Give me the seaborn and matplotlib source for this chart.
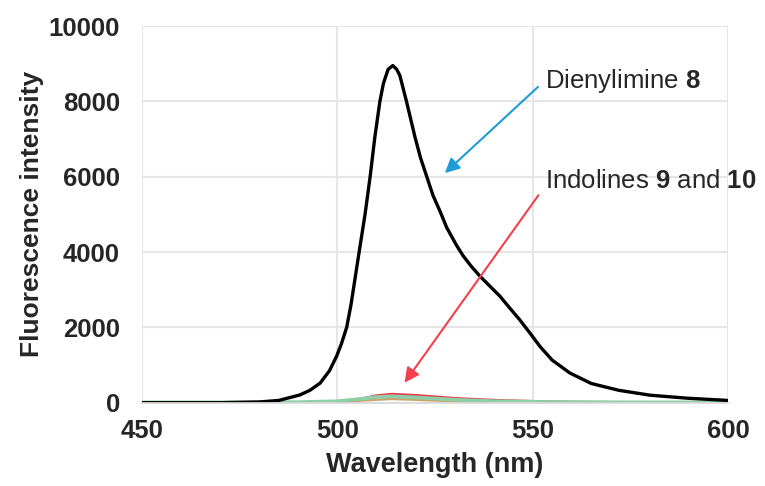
import numpy as np
import pandas as pd
import matplotlib
matplotlib.use("Agg")
import matplotlib.pyplot as plt
import seaborn as sns

sns.set_theme(style="white")
plt.rcParams['font.family'] = ['Liberation Sans', 'DejaVu Sans']
plt.rcParams['mathtext.fontset'] = 'custom'
plt.rcParams['mathtext.rm'] = 'Liberation Sans'
plt.rcParams['mathtext.bf'] = 'Liberation Sans:bold'

# dienylimine 8 (black)
wl_8 = [450, 470, 480, 485, 490.4, 493, 495.6, 498, 499.8, 501, 502.4, 503.5, 504.5,
        505.6, 507.1, 508.4, 509.6, 510.9, 511.8, 513, 514.2, 515.2, 516, 517.7,
        519.9, 521.3, 522.9, 524.5, 526.3, 528, 530.5, 532.2, 534.3, 536.5, 539, 541.6, 544,
        546.7, 549.3, 551.9, 555, 559.5, 565, 572, 580, 589.5, 600]
int_8 = [0, 0, 20, 60, 205, 330, 520, 850, 1230, 1550, 2000, 2600, 3270,
         4010, 5000, 6000, 7045, 8000, 8474, 8850, 8950, 8850, 8690, 8000,
         7045, 6500, 6000, 5500, 5080, 4650, 4180, 3900, 3620, 3360, 3100, 2830, 2530,
         2200, 1850, 1490, 1130, 790, 510, 330, 200, 120, 60]

# indolines 9 and 10 (faint curves)
wl_small = [450, 480, 490, 500, 505, 510, 514, 520, 530, 540, 550, 560, 580, 600]
int_red = [0, 0, 5, 20, 80, 190, 230, 200, 120, 70, 40, 20, 5, 0]
int_tan = [0, 0, 5, 15, 50, 80, 100, 80, 40, 20, 10, 5, 0, 0]
int_green = [10, 10, 15, 40, 90, 150, 170, 140, 80, 40, 25, 15, 10, 10]

fig, ax = plt.subplots(figsize=(7.65, 4.86), dpi=100)
fig.subplots_adjust(left=0.1856, right=0.9516, top=0.9465, bottom=0.1714)

sns.lineplot(x=wl_small, y=int_tan, color="#c9a46a", lw=1.8, ax=ax)
sns.lineplot(x=wl_small, y=int_red, color="#e8404c", lw=1.8, ax=ax)
sns.lineplot(x=wl_small, y=int_green, color="#8fcfa8", lw=2.6, ax=ax)
sns.lineplot(x=wl_8, y=int_8, color="black", lw=2.4, ax=ax,
             solid_joinstyle="round", solid_capstyle="round")

ax.set_xlim(450, 600)
ax.set_ylim(0, 10000)
ax.set_xticks([450, 500, 550, 600])
ax.set_yticks([0, 2000, 4000, 6000, 8000, 10000])
ax.grid(True, color="#e6e6e6", lw=1.5)
ax.set_axisbelow(True)
for s in ["top", "right", "left"]:
    ax.spines[s].set_visible(False)
ax.spines["bottom"].set_color("#d9d9d9")
ax.tick_params(axis="both", length=0, labelsize=18.5)
ax.tick_params(axis="y", pad=16)
ax.tick_params(axis="x", pad=12)
for lab in ax.get_xticklabels() + ax.get_yticklabels():
    lab.set_fontweight("bold")
ax.set_xlabel("Wavelength (nm)", fontsize=19.5, fontweight="bold", labelpad=6)
ax.set_ylabel("Fluorescence intensity", fontsize=19, fontweight="bold", labelpad=3)

ax.annotate("", xy=(527.0, 6045), xytext=(551.9, 8434),
            arrowprops=dict(arrowstyle="-|>", color="#1f9bd7", lw=1.5, mutation_scale=22))
ax.annotate("", xy=(516.8, 470), xytext=(551.9, 5568),
            arrowprops=dict(arrowstyle="-|>", color="#f2404f", lw=1.5, mutation_scale=22))
ax.text(553.2, 8540, r"Dienylimine $\mathbf{8}$", fontsize=18.5, color="#262626", va="center")
ax.text(553.2, 5880, r"Indolines $\mathbf{9}$ and $\mathbf{10}$", fontsize=18.5,
        color="#262626", va="center")

fig.savefig("out.png", dpi=100)
